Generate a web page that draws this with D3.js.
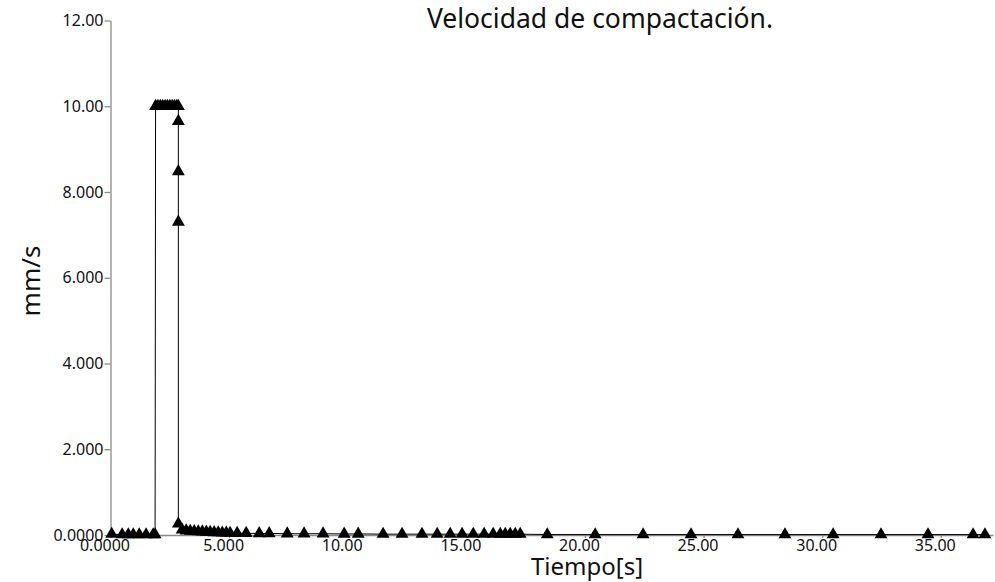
<!DOCTYPE html>
<html><head><meta charset="utf-8">
<script src="https://cdn.jsdelivr.net/npm/d3@7"></script>
<style>
html,body{margin:0;padding:0;background:#fff;}
text{font-family:"Noto Sans","Open Sans",sans-serif;fill:#111;}
</style></head>
<body><svg id="chart" width="995" height="582"></svg>
<script>
const title = "Velocidad de compactación.";
const xLabel = "Tiempo[s]";
const yLabel = "mm/s";
const xTicks = [0,5,10,15,20,25,30,35];
const xTickLabels = ["0.0000","5.000","10.00","15.00","20.00","25.00","30.00","35.00"];
const yTicks = [0,2,4,6,8,10,12];
const yTickLabels = ["0.0000","2.000","4.000","6.000","8.000","10.00","12.00"];
const times = [0.05,0.49,0.75,0.96,1.21,1.50,1.80,1.88,
  1.90,2.00,2.10,2.20,2.30,2.40,2.50,2.60,2.70,2.80,2.86,
  2.86,2.86,2.86,2.86,
  3.02,3.19,3.36,3.53,3.70,3.87,4.04,4.20,4.37,4.54,4.71,4.88,5.04,
  5.34,5.72,6.27,6.69,7.45,8.16,8.96,9.85,10.44,11.49,12.29,13.13,13.77,14.32,14.82,15.29,15.75,16.13,16.43,16.64,16.85,17.06,17.27,
  18.41,20.43,22.45,24.47,26.45,28.43,30.46,32.48,34.46,36.36,36.86];
const speeds = [0.02,0.01,0.01,0.01,0.01,0.01,0.01,0.01,
  10,10,10,10,10,10,10,10,10,10,10,
  9.65,8.48,7.30,0.26,
  0.12,0.10,0.09,0.085,0.08,0.075,0.07,0.065,0.06,0.055,0.05,0.05,0.045,
  0.04,0.04,0.035,0.035,0.03,0.03,0.03,0.025,0.025,0.02,0.02,0.02,0.02,0.02,0.02,0.02,0.02,0.02,0.02,0.02,0.02,0.02,0.02,
  0.01,0.01,0.01,0.01,0.01,0.01,0.01,0.01,0.01,0.01,0.01];
const data = times.map((t,i)=>({t, v: speeds[i]}));

const svg = d3.select("#chart");
const x = d3.scaleLinear().domain([0,37.2]).range([110.5,993]);
const y = d3.scaleLinear().domain([0,12]).range([535,20.5]);

// y axis
const gy = svg.append("g").attr("transform","translate(110.5,0)")
  .call(d3.axisLeft(y).tickValues(yTicks).tickFormat((d,i)=>yTickLabels[i]).tickSize(6).tickSizeOuter(0).tickPadding(1));
gy.selectAll("path,line").attr("stroke","#8a8a8a").attr("stroke-width",1.3);
gy.selectAll("text").style("font-size","16px").attr("fill","#111");

// x axis
const gx = svg.append("g").attr("transform","translate(0,535)")
  .call(d3.axisBottom(x).tickValues(xTicks).tickFormat((d,i)=>xTickLabels[i]).tickSize(3).tickSizeOuter(0).tickPadding(2));
gx.selectAll("path,line").attr("stroke","#8a8a8a").attr("stroke-width",1.3);
gx.selectAll("text").style("font-size","16px").attr("fill","#111").attr("dx",-6);

// line
svg.append("path").datum(data)
  .attr("fill","none").attr("stroke","#000").attr("stroke-width",1)
  .attr("d", d3.line().x(d=>x(d.t)).y(d=>y(d.v)));

// markers
const sym = d3.symbol().type(d3.symbolTriangle).size(72);
svg.append("g").selectAll("path").data(data).join("path")
  .attr("transform", d=>`translate(${x(d.t)},${y(d.v)})`)
  .attr("d", sym).attr("fill","#000");

// title & labels
svg.append("text").attr("x",600).attr("y",28).attr("text-anchor","middle")
  .style("font-size","26.5px").text(title);
svg.append("text").attr("x",587).attr("y",575).attr("text-anchor","middle")
  .style("font-size","24px").text(xLabel);
svg.append("text").attr("transform","translate(40,281) rotate(-90)").attr("text-anchor","middle")
  .style("font-size","26px").text(yLabel);
</script>
</body></html>
